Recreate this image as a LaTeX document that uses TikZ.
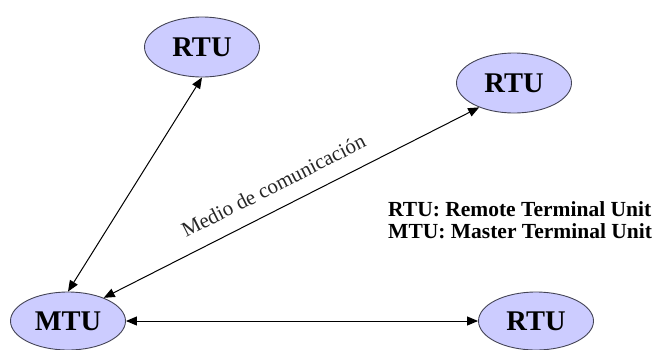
\documentclass[tikz,border=0pt]{standalone}
\usepackage{fontspec}
\setmainfont{Liberation Serif}
\usetikzlibrary{shapes.geometric,arrows.meta}
\definecolor{unitfill}{HTML}{CCCCFF}
\definecolor{unitdraw}{HTML}{444455}
\tikzset{
  unit/.style={ellipse, draw=unitdraw, line width=0.9pt, fill=unitfill,
    minimum width=115pt, minimum height=60pt, inner sep=0pt,
    font=\fontsize{28.5}{28.5}\selectfont\bfseries},
  link/.style={line width=1pt, {Triangle[length=11pt,width=9pt]}-{Triangle[length=11pt,width=9pt]}},
  legend/.style={anchor=west, inner sep=0pt, font=\fontsize{21.5}{21.5}\selectfont\bfseries}
}
\begin{document}
\begin{tikzpicture}[x=1pt,y=-1pt]
\useasboundingbox (0,0) rectangle (655,349);
\node[unit] (rtua) at (202,47) {RTU};
\node[unit] (rtub) at (514,83) {RTU};
\node[unit, minimum height=58pt] (mtu) at (68,321) {MTU};
\node[unit, minimum height=58pt] (rtuc) at (536,321) {RTU};
\draw[link] (rtua.south) -- (mtu.north);
\draw[link] (mtu.33) -- node[pos=0.48, sloped, above=12pt, font=\fontsize{21}{21}\selectfont, text=black!85] (medio) {Medio de comunicación} (rtub.215);
\draw[link] (mtu.east) -- (rtuc.west);
\node[legend] (leg1) at (388,209) {RTU: Remote Terminal Unit};
\node[legend] (leg2) at (388,231) {MTU: Master Terminal Unit};
\end{tikzpicture}
\end{document}
